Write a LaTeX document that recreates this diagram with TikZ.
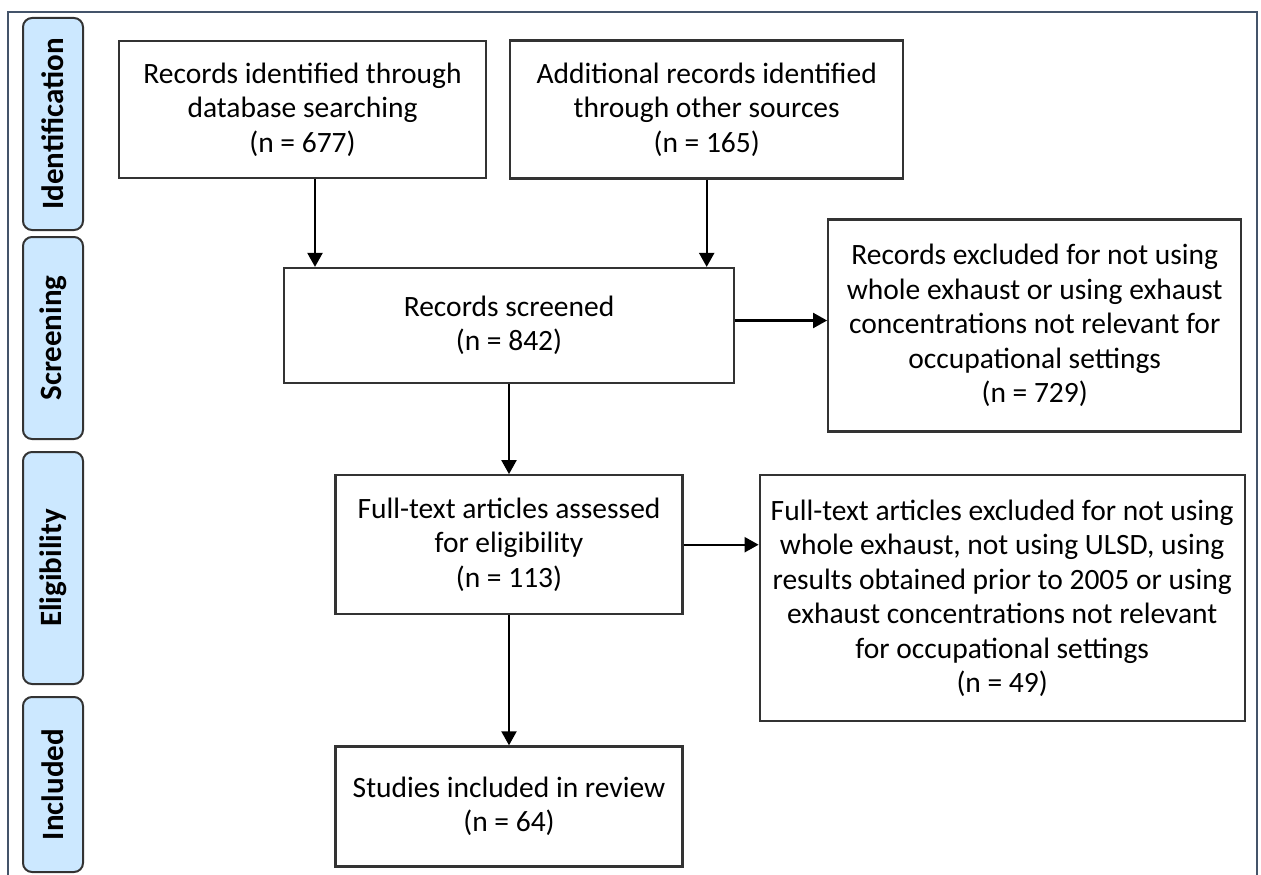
\documentclass[tikz,border=0pt]{standalone}
\usepackage{fontspec}
\setmainfont{Carlito}
\usepackage{xcolor}
\usetikzlibrary{positioning,arrows.meta}
\definecolor{framegray}{HTML}{44546A}
\definecolor{stageblue}{HTML}{CCE8FF}
\definecolor{boxline}{HTML}{333333}

\begin{document}
\begin{tikzpicture}[
    x=1pt, y=1pt,
    box/.style={rectangle, draw=boxline, line width=2.2pt, align=center,
                font=\fontsize{29.5}{34.5}\selectfont, inner sep=0pt},
    stage/.style={rectangle, rounded corners=9pt, draw=boxline, line width=2pt,
                  fill=stageblue, rotate=90, minimum height=60pt,
                  font=\fontsize{31}{36}\selectfont\bfseries},
    arrow/.style={-{Triangle[length=14pt,width=15pt]}, line width=2.2pt},
    node distance=90pt and 92pt
]
\useasboundingbox (0,0) rectangle (1261,-875);
\draw[framegray, line width=1.5pt] (8,-880) -- (8,-12) -- (1257,-12) -- (1257,-880);

% PRISMA stages
\node[stage, minimum width=212pt] (ident) at (53,-124) {Identification};
\node[stage, minimum width=202pt] (screen) at (53,-338) {Screening};
\node[stage, minimum width=232pt] (elig) at (53,-568) {Eligibility};
\node[stage, minimum width=175pt] (incl) at (53,-784.5) {Included};

\node[box, minimum width=367pt, minimum height=137pt] (search) at (302.5,-109.5)
  {Records identified through\\database searching\\(n = 677)};
\node[box, minimum width=393pt, minimum height=138pt, right=22pt of search] (other)
  {Additional records identified\\through other sources\\(n = 165)};
\node[box, minimum width=450pt, minimum height=115pt] (screened) at (509,-325.5)
  {Records screened\\(n = 842)};
\node[box, minimum width=413pt, minimum height=212pt, right=of screened] (excl1)
  {Records excluded for not using\\whole exhaust or using exhaust\\concentrations not relevant for\\occupational settings\\(n = 729)};
\node[box, minimum width=347pt, minimum height=139pt, below=of screened] (fulltext)
  {Full-text articles assessed\\for eligibility\\(n = 113)};
\node[box, minimum width=485pt, minimum height=246pt,
      right=75pt of fulltext.north east, anchor=north west] (excl2)
  {Full-text articles excluded for not using\\whole exhaust, not using ULSD, using\\results obtained prior to 2005 or using\\exhaust concentrations not relevant\\for occupational settings\\(n = 49)};
\node[box, minimum width=347pt, minimum height=120pt, below=130pt of fulltext] (included)
  {Studies included in review\\(n = 64)};

\draw[arrow] ([xshift=12.5pt]search.south) -- ([xshift=12.5pt]search.south |- screened.north);
\draw[arrow] (other.south) -- (other.south |- screened.north);
\draw[arrow] ([yshift=5pt]excl1.west -| screened.east) -- ([yshift=5pt]excl1.west);
\draw[arrow] (screened.south) -- (screened.south |- fulltext.north);
\draw[arrow] (fulltext.east) -- (fulltext.east -| excl2.west);
\draw[arrow] (fulltext) -- (included);
\end{tikzpicture}
\end{document}
